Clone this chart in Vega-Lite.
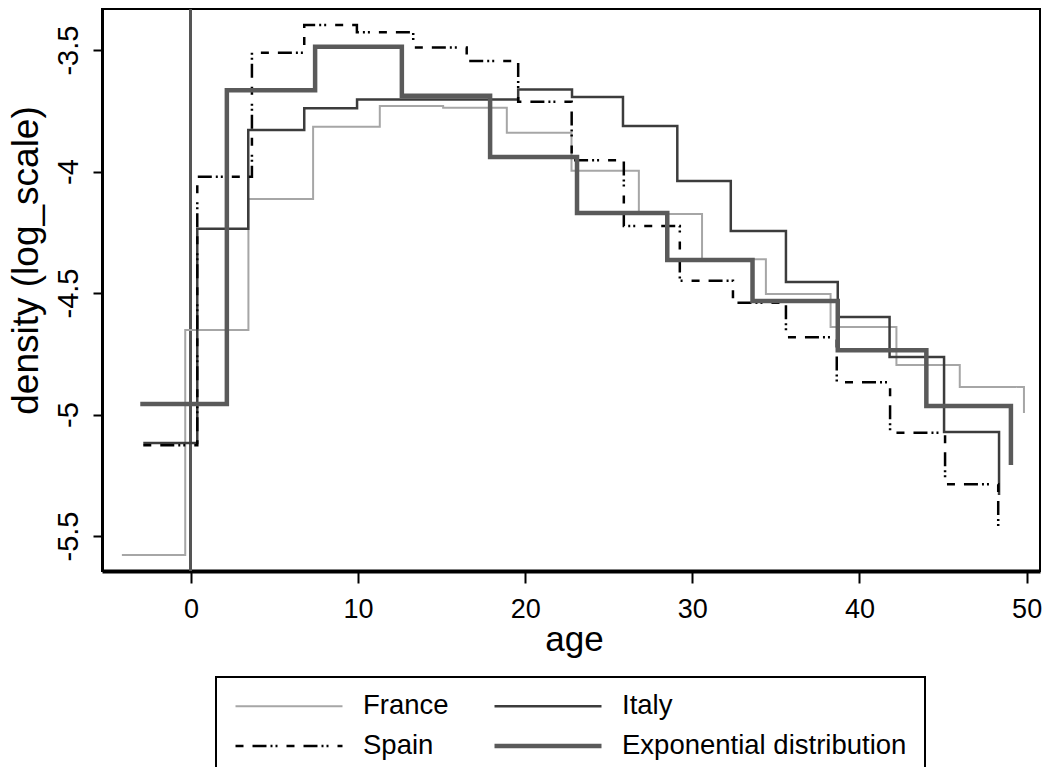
{
  "$schema": "https://vega.github.io/schema/vega-lite/v6.json",
  "autosize": {"type": "none"},
  "padding": {"left": 102, "top": 9, "right": 5, "bottom": 196},
  "width": 938,
  "height": 562,
  "background": "white",
  "config": {
    "view": {"stroke": "black", "strokeWidth": 2},
    "font": "Liberation Sans",
    "axis": {"grid": false, "domainColor": "black", "tickColor": "black", "labelColor": "black", "titleColor": "black", "labelFont": "Liberation Sans", "titleFont": "Liberation Sans", "titleFontWeight": "normal"},
    "legend": {
      "labelFont": "Liberation Sans", "labelFontSize": 27.5, "labelColor": "black", "labelLimit": 500,
      "symbolSize": 11449, "clipHeight": 22, "labelOffset": 19, "columnPadding": 44, "rowPadding": 12,
      "padding": 18, "strokeColor": "black"
    }
  },
  "data": {"values": [
    {"s": "France", "age": -4.13, "v": -5.578},
    {"s": "France", "age": -0.34, "v": -4.652},
    {"s": "France", "age": 3.44, "v": -4.113},
    {"s": "France", "age": 7.31, "v": -3.816},
    {"s": "France", "age": 11.3, "v": -3.730},
    {"s": "France", "age": 15.09, "v": -3.737},
    {"s": "France", "age": 18.9, "v": -3.840},
    {"s": "France", "age": 22.77, "v": -3.997},
    {"s": "France", "age": 26.8, "v": -4.175},
    {"s": "France", "age": 30.58, "v": -4.361},
    {"s": "France", "age": 34.4, "v": -4.504},
    {"s": "France", "age": 38.27, "v": -4.640},
    {"s": "France", "age": 42.21, "v": -4.796},
    {"s": "France", "age": 46.0, "v": -4.887},
    {"s": "France", "age": 49.84, "v": -4.994},
    {"s": "Italy", "age": -2.85, "v": -5.117},
    {"s": "Italy", "age": 0.38, "v": -4.235},
    {"s": "Italy", "age": 3.43, "v": -3.829},
    {"s": "Italy", "age": 6.78, "v": -3.739},
    {"s": "Italy", "age": 9.94, "v": -3.703},
    {"s": "Italy", "age": 19.58, "v": -3.662},
    {"s": "Italy", "age": 22.8, "v": -3.693},
    {"s": "Italy", "age": 25.85, "v": -3.813},
    {"s": "Italy", "age": 29.1, "v": -4.039},
    {"s": "Italy", "age": 32.3, "v": -4.245},
    {"s": "Italy", "age": 35.6, "v": -4.455},
    {"s": "Italy", "age": 38.7, "v": -4.599},
    {"s": "Italy", "age": 41.8, "v": -4.763},
    {"s": "Italy", "age": 45.06, "v": -5.072},
    {"s": "Italy", "age": 48.35, "v": -5.331},
    {"s": "Spain", "age": -2.85, "v": -5.126},
    {"s": "Spain", "age": 0.38, "v": -4.021},
    {"s": "Spain", "age": 3.65, "v": -3.511},
    {"s": "Spain", "age": 6.78, "v": -3.397},
    {"s": "Spain", "age": 9.93, "v": -3.427},
    {"s": "Spain", "age": 13.3, "v": -3.489},
    {"s": "Spain", "age": 16.5, "v": -3.545},
    {"s": "Spain", "age": 19.58, "v": -3.713},
    {"s": "Spain", "age": 22.78, "v": -3.953},
    {"s": "Spain", "age": 25.9, "v": -4.224},
    {"s": "Spain", "age": 29.25, "v": -4.449},
    {"s": "Spain", "age": 32.43, "v": -4.540},
    {"s": "Spain", "age": 35.6, "v": -4.682},
    {"s": "Spain", "age": 38.64, "v": -4.867},
    {"s": "Spain", "age": 41.83, "v": -5.075},
    {"s": "Spain", "age": 45.12, "v": -5.287},
    {"s": "Spain", "age": 48.3, "v": -5.482},
    {"s": "Exponential distribution", "age": -3.03, "v": -4.957},
    {"s": "Exponential distribution", "age": 2.15, "v": -3.665},
    {"s": "Exponential distribution", "age": 7.43, "v": -3.486},
    {"s": "Exponential distribution", "age": 12.62, "v": -3.688},
    {"s": "Exponential distribution", "age": 17.9, "v": -3.940},
    {"s": "Exponential distribution", "age": 23.1, "v": -4.171},
    {"s": "Exponential distribution", "age": 28.5, "v": -4.364},
    {"s": "Exponential distribution", "age": 33.6, "v": -4.533},
    {"s": "Exponential distribution", "age": 38.7, "v": -4.735},
    {"s": "Exponential distribution", "age": 44.0, "v": -4.965},
    {"s": "Exponential distribution", "age": 49.06, "v": -5.208}
  ]},
  "layer": [
    {
      "mark": {"type": "rule", "color": "#555555", "strokeWidth": 2},
      "encoding": {"x": {"datum": 0, "type": "quantitative"}}
    },
    {
      "mark": {"type": "line", "interpolate": "step-after"},
      "encoding": {
        "x": {
          "field": "age", "type": "quantitative",
          "scale": {"domain": [-5.32, 50.8], "nice": false, "zero": false},
          "axis": {
            "values": [0, 10, 20, 30, 40, 50], "tickSize": 12, "tickWidth": 2, "domainWidth": 4,
            "labelFontSize": 27, "labelPadding": 13, "title": "age", "titleFontSize": 35,
            "titleBaseline": "alphabetic", "titleX": 472, "titleY": 79
          }
        },
        "y": {
          "field": "v", "type": "quantitative",
          "scale": {"domain": [-5.644, -3.331], "nice": false, "zero": false},
          "axis": {
            "values": [-3.5, -4, -4.5, -5, -5.5], "labelExpr": "toString(datum.value)",
            "tickSize": 9, "tickWidth": 2, "domainWidth": 3,
            "labelAngle": 270, "labelAlign": "center", "labelBaseline": "alphabetic",
            "labelFontSize": 29, "labelPadding": 16,
            "title": "density (log_scale)", "titleFontSize": 37, "titleAngle": 270,
            "titleAlign": "center", "titleBaseline": "alphabetic", "titleX": -65, "titleY": 251
          }
        },
        "color": {
          "field": "s", "type": "nominal",
          "scale": {"domain": ["France", "Italy", "Spain", "Exponential distribution"], "range": ["#a6a6a6", "#3c3c3c", "#000000", "#5a5a5a"]},
          "legend": {"title": null, "orient": "none", "legendX": 114, "legendY": 668, "columns": 2, "direction": "horizontal",
            "encode": {
              "legend": {"update": {"strokeWidth": {"value": 2}}},
              "symbols": {"update": {"strokeWidth": {"signal": "(datum.value === 'Exponential distribution' ? 4.5 : (datum.value === 'France' ? 2 : 2.5))"}}}
            }}
        },
        "strokeDash": {
          "field": "s", "type": "nominal",
          "scale": {"domain": ["France", "Italy", "Spain", "Exponential distribution"], "range": [[1, 0], [1, 0], [8, 9, 14, 4, 2, 3, 2, 9], [1, 0]]},
          "legend": {"title": null}
        },
        "strokeWidth": {
          "condition": [
            {"test": "datum.s === 'Exponential distribution'", "value": 4.5},
            {"test": "datum.s === 'France'", "value": 2}
          ],
          "value": 2.5
        }
      }
    }
  ]
}
